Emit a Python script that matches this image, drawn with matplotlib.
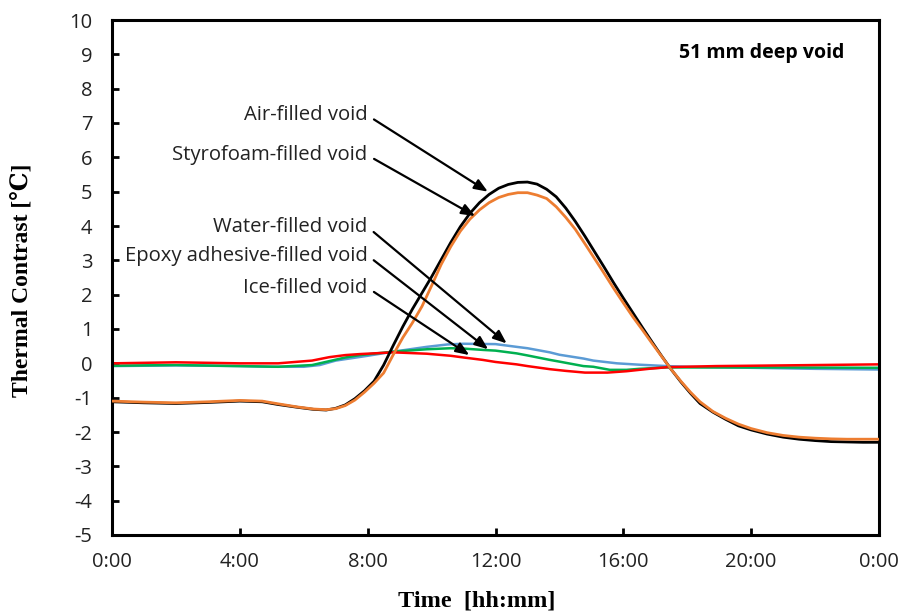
import matplotlib
matplotlib.use("Agg")
import matplotlib.pyplot as plt

plt.rcParams["axes.unicode_minus"] = False

# ---------------- data ----------------
t_air = [0, 1, 2, 3, 4, 4.7, 5.2, 5.8, 6.3, 6.7, 7.0, 7.3, 7.6, 7.9, 8.2, 8.5, 8.8, 9.1, 9.4, 9.7,
         10.0, 10.3, 10.6, 10.9, 11.2, 11.5, 11.8, 12.1, 12.4, 12.7, 13.0, 13.3, 13.6, 13.9, 14.2, 14.5,
         14.8, 15.1, 15.4, 15.7, 16.0, 16.3, 16.6, 16.9, 17.2, 17.5, 17.8, 18.1, 18.4, 18.8, 19.2, 19.6,
         20.0, 20.5, 21.0, 21.5, 22.0, 22.5, 23.0, 23.5, 24.0]
air = [-1.12, -1.15, -1.17, -1.14, -1.10, -1.12, -1.20, -1.28, -1.34, -1.36, -1.31, -1.21, -1.03, -0.80,
       -0.52, -0.05, 0.52, 1.07, 1.58, 2.05, 2.52, 3.02, 3.52, 3.98, 4.37, 4.68, 4.92, 5.10, 5.21, 5.27,
       5.28, 5.22, 5.07, 4.85, 4.52, 4.13, 3.70, 3.25, 2.80, 2.34, 1.90, 1.47, 1.04, 0.62, 0.21, -0.18,
       -0.54, -0.87, -1.17, -1.42, -1.63, -1.82, -1.94, -2.06, -2.15, -2.21, -2.25, -2.28, -2.29, -2.30, -2.30]

t_styro = [0, 1, 2, 3, 4, 4.7, 5.2, 5.8, 6.3, 6.7, 7.0, 7.3, 7.6, 7.9, 8.2, 8.5, 8.8, 9.1, 9.4, 9.7,
           10.0, 10.3, 10.6, 10.9, 11.2, 11.5, 11.8, 12.1, 12.4, 12.7, 13.0, 13.3, 13.6, 13.9, 14.2, 14.5,
           14.8, 15.1, 15.4, 15.7, 16.0, 16.3, 16.6, 16.9, 17.2, 17.5, 17.8, 18.1, 18.4, 18.8, 19.2, 19.6,
           20.0, 20.5, 21.0, 21.5, 22.0, 22.5, 23.0, 23.5, 24.0]
styro = [-1.10, -1.13, -1.15, -1.12, -1.08, -1.10, -1.18, -1.27, -1.33, -1.35, -1.32, -1.23, -1.07, -0.84,
         -0.58, -0.28, 0.25, 0.75, 1.18, 1.66, 2.26, 2.88, 3.40, 3.85, 4.20, 4.47, 4.68, 4.83, 4.92, 4.97,
         4.97, 4.90, 4.80, 4.56, 4.25, 3.90, 3.48, 3.05, 2.62, 2.18, 1.76, 1.35, 0.97, 0.58, 0.20, -0.18,
         -0.52, -0.84, -1.12, -1.40, -1.60, -1.77, -1.90, -2.02, -2.10, -2.15, -2.18, -2.20, -2.21, -2.21, -2.21]

t_water = [0, 2, 4, 5, 6, 6.5, 7, 7.5, 8, 8.8, 9.85, 10.5, 11.0, 12.0, 12.66, 13.0, 13.7, 14.0, 14.75,
           15.06, 15.8, 16.5, 17.36, 18, 20, 22, 24]
water = [-0.08, -0.06, -0.08, -0.10, -0.10, -0.05, 0.08, 0.15, 0.22, 0.34, 0.48, 0.55, 0.57, 0.56, 0.48,
         0.44, 0.32, 0.25, 0.14, 0.08, 0.00, -0.04, -0.08, -0.10, -0.13, -0.16, -0.18]

t_epoxy = [0, 2, 4, 5.2, 6.26, 7.3, 7.76, 8.8, 9.85, 10.6, 11.0, 11.62, 12.0, 12.66, 13.0, 13.7, 14.0,
           14.75, 15.06, 15.58, 16.1, 16.5, 17.36, 19, 21, 24]
epoxy = [-0.07, -0.05, -0.08, -0.10, -0.05, 0.17, 0.24, 0.34, 0.41, 0.44, 0.43, 0.39, 0.37, 0.29, 0.23,
         0.10, 0.05, -0.08, -0.10, -0.19, -0.19, -0.16, -0.12, -0.12, -0.12, -0.13]

t_ice = [0, 2, 4, 5.2, 6.26, 6.8, 7.3, 7.76, 8.8, 9.85, 10.6, 11.0, 11.6, 12.0, 12.66, 13.0, 13.7, 14.2,
         14.8, 15.5, 16.1, 16.8, 17.4, 18.9, 20, 22, 24]
ice = [0.00, 0.03, 0.00, 0.00, 0.08, 0.18, 0.24, 0.27, 0.32, 0.28, 0.22, 0.17, 0.10, 0.04, -0.03, -0.08,
       -0.17, -0.22, -0.27, -0.27, -0.23, -0.16, -0.11, -0.08, -0.07, -0.05, -0.03]

x_ticks = [0, 4, 8, 12, 16, 20, 24]
x_tick_labels = ["0:00", "4:00", "8:00", "12:00", "16:00", "20:00", "0:00"]
y_ticks = list(range(-5, 11))

labels = ["Air-filled void", "Styrofoam-filled void", "Water-filled void",
          "Epoxy adhesive-filled void", "Ice-filled void"]
label_text_pos = [(8.0, 7.22), (8.0, 6.06), (8.0, 3.97), (8.0, 3.14), (8.0, 2.20)]
label_arrow_tip = [(11.76, 5.0), (11.36, 4.29), (12.35, 0.58), (11.77, 0.41), (11.18, 0.24)]

# ---------------- plot ----------------
fig = plt.figure(figsize=(9, 6.15), dpi=100)
ax = fig.add_axes([112/900, 1-535/615, 767/900, 515/615])

ax.plot(t_water, water, color="#5B9BD5", lw=1.8, zorder=2)
ax.plot(t_epoxy, epoxy, color="#00B050", lw=1.8, zorder=2)
ax.plot(t_ice, ice, color="#FF0000", lw=1.8, zorder=2)
ax.plot(t_air, air, color="black", lw=2.0, zorder=3)
ax.plot(t_styro, styro, color="#ED7D31", lw=2.0, zorder=4)

ax.set_xlim(0, 24)
ax.set_ylim(-5, 10)
ax.set_xticks(x_ticks)
ax.set_xticklabels(x_tick_labels)
ax.set_yticks(y_ticks)

sans = ["Open Sans", "DejaVu Sans"]
for lab in ax.get_xticklabels() + ax.get_yticklabels():
    lab.set_family(sans)
    lab.set_fontsize(14.5)
    lab.set_color("#222222")

ax.tick_params(axis="both", direction="in", length=5, width=2, color="black")
ax.tick_params(axis="x", pad=12)
ax.tick_params(axis="y", pad=14)
for sp in ax.spines.values():
    sp.set_linewidth(2.2)
    sp.set_color("black")

serif = ["Liberation Serif", "DejaVu Serif"]
ax.set_xlabel("Time  [hh:mm]", fontsize=17.5, fontweight="bold", family=serif)
ax.set_ylabel("Thermal Contrast [℃]", fontsize=17, fontweight="bold", family=serif)
ax.xaxis.set_label_coords(0.475, -0.108)
ax.yaxis.set_label_coords(-0.104, 0.495)

ax.text(0.955, 0.935, "51 mm deep void", transform=ax.transAxes, ha="right", va="center",
        fontsize=14, fontweight="bold", family=sans)

for lab, (tx, ty), (ax_, ay_) in zip(labels, label_text_pos, label_arrow_tip):
    ax.annotate(lab, xy=(ax_, ay_), xytext=(tx, ty), textcoords="data",
                ha="right", va="center", fontsize=14.6, family=sans, zorder=5, color="#222222",
                arrowprops=dict(arrowstyle="-|>,head_length=0.55,head_width=0.22", color="black",
                                lw=1.6, shrinkA=3, shrinkB=0, relpos=(1.0, 0.5)))

fig.savefig("out.png", dpi=100)
